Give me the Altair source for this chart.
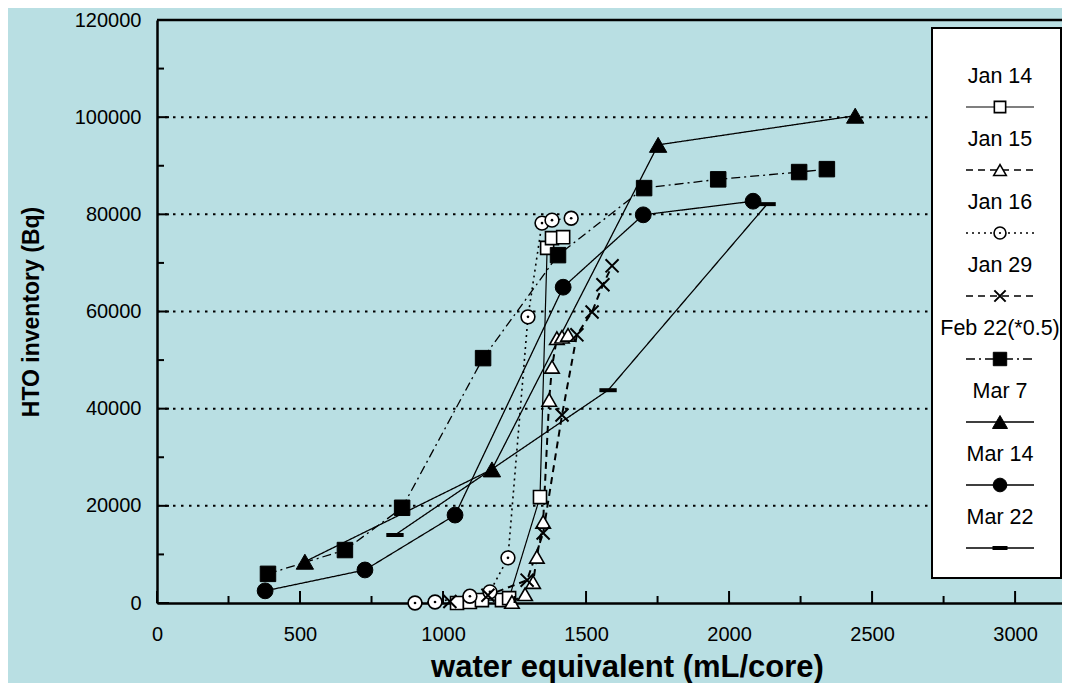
import altair as alt
import pandas as pd

# ---------------- data ----------------
series_names = ["Jan 14", "Jan 15", "Jan 16", "Jan 29", "Feb 22(*0.5)", "Mar 7", "Mar 14", "Mar 22"]

jan14_x = [1049, 1094, 1136, 1206, 1231, 1339, 1364, 1381, 1420]
jan14_y = [0, 200, 600, 600, 1000, 21800, 73100, 75100, 75300]

jan15_x = [1241, 1287, 1315, 1328, 1350, 1371, 1381, 1398, 1416, 1437]
jan15_y = [200, 1800, 4300, 9500, 16700, 41800, 48600, 54500, 54800, 55200]

jan16_x = [902, 972, 1094, 1164, 1227, 1297, 1346, 1381, 1448]
jan16_y = [0, 200, 1400, 2300, 9300, 58900, 78200, 78800, 79200]

jan29_x = [1024, 1157, 1294, 1350, 1416, 1468, 1521, 1559, 1591]
jan29_y = [300, 1600, 4700, 14400, 38700, 55200, 59900, 65500, 69400]

feb22_x = [388, 657, 857, 1140, 1402, 1703, 1962, 2245, 2342]
feb22_y = [6000, 10900, 19600, 50400, 71600, 85400, 87200, 88700, 89300]

mar7_x = [517, 1171, 1752, 2441]
mar7_y = [8500, 27500, 94300, 100300]

mar14_x = [378, 727, 1042, 1420, 1700, 2084]
mar14_y = [2500, 6800, 18100, 65000, 79900, 82700]

mar22_x = [832, 1577, 2133]
mar22_y = [14000, 43800, 82100]

all_x = [jan14_x, jan15_x, jan16_x, jan29_x, feb22_x, mar7_x, mar14_x, mar22_x]
all_y = [jan14_y, jan15_y, jan16_y, jan29_y, feb22_y, mar7_y, mar14_y, mar22_y]

x_major = [0, 500, 1000, 1500, 2000, 2500, 3000]
x_minor = [250, 750, 1250, 1750, 2250, 2750]
y_major = [0, 20000, 40000, 60000, 80000, 100000, 120000]
y_minor = [10000, 30000, 50000, 70000, 90000, 110000]
grid_y = [20000, 40000, 60000, 80000, 100000]

# ---------------- layout / style ----------------
X_MAX = 3164
Y_MAX = 120000
W = 905
H = 583
FONT = "Liberation Sans"
BG = "#B9DFE3"

XPATH = "M-1,-1L1,1M-1,1L1,-1"
DASHPATH = "M-1,0L1,0"

styles = {
    "Jan 14": dict(dash=[1, 0], sw=1.2, shape="square", fill="white", size=170, msw=1.6),
    "Jan 15": dict(dash=[7, 5], sw=2.0, shape="triangle-up", fill="white", size=210, msw=1.6),
    "Jan 16": dict(dash=[2, 4], sw=1.6, shape="circle", fill="white", size=190, msw=1.6),
    "Jan 29": dict(dash=[7, 5], sw=2.0, shape=XPATH, fill=None, size=170, msw=2.0),
    "Feb 22(*0.5)": dict(dash=[9, 4, 2, 4], sw=1.3, shape="square", fill="black", size=240, msw=1),
    "Mar 7": dict(dash=[1, 0], sw=1.3, shape="triangle-up", fill="black", size=300, msw=1),
    "Mar 14": dict(dash=[1, 0], sw=1.3, shape="circle", fill="black", size=250, msw=1),
    "Mar 22": dict(dash=[1, 0], sw=1.3, shape=DASHPATH, fill=None, size=300, msw=4.0),
}

xscale = alt.Scale(domain=[0, X_MAX], nice=False, zero=False)
yscale = alt.Scale(domain=[0, Y_MAX], nice=False, zero=False)

xaxis = alt.Axis(values=x_major, tickSize=0, labelFontSize=20, labelFont=FONT, format="d",
                 labelPadding=21, labelColor="black", domainColor="black", domainWidth=2.5,
                 grid=False, title="water equivalent (mL/core)", titleFont=FONT,
                 titleFontSize=31, titleFontWeight="bold", titleColor="black",
                 titleX=470, titleY=73, titleBaseline="alphabetic", labelFlush=False)
yaxis = alt.Axis(values=y_major, tickSize=0, labelFontSize=20, labelFont=FONT,
                 labelPadding=16, labelColor="black", domainColor="black", domainWidth=2.5,
                 grid=False, format="d", title="HTO inventory (Bq)", titleFont=FONT,
                 titleFontSize=23, titleFontWeight="bold", titleColor="black",
                 titlePadding=31, labelFlush=False)

X = alt.X("x:Q", scale=xscale, axis=xaxis)
Y = alt.Y("y:Q", scale=yscale, axis=yaxis)

layers = []

# grid lines
grid_df = pd.DataFrame({"y": grid_y})
layers.append(alt.Chart(grid_df).mark_rule(stroke="black", strokeWidth=2, strokeDash=[2.5, 5.5]).encode(
    y=Y, x=alt.value(0), x2=alt.value(W)))

# series lines
for name, xs, ys in zip(series_names, all_x, all_y):
    st = styles[name]
    df = pd.DataFrame({"x": xs, "y": ys, "i": list(range(len(xs)))})
    layers.append(alt.Chart(df).mark_line(stroke="black", strokeWidth=st["sw"], strokeDash=st["dash"]).encode(
        x=X, y=Y, order=alt.Order("i:Q")))

# series markers
for name, xs, ys in zip(series_names, all_x, all_y):
    st = styles[name]
    base = alt.Chart(pd.DataFrame({"x": xs, "y": ys}))
    if st["fill"] is None:
        pm = base.mark_point(shape=st["shape"], size=st["size"], filled=False, stroke="black",
                             strokeWidth=st["msw"], opacity=1)
    else:
        pm = base.mark_point(shape=st["shape"], size=st["size"], filled=True, fill=st["fill"],
                             stroke="black", strokeWidth=st["msw"], opacity=1, fillOpacity=1)
    layers.append(pm.encode(x=X, y=Y))
    if name == "Jan 16":
        layers.append(base.mark_point(shape="circle", size=7, filled=True, fill="black",
                                      opacity=1).encode(x=X, y=Y))

# ticks (inward)
layers.append(alt.Chart(pd.DataFrame({"x": x_major})).mark_rule(stroke="black", strokeWidth=2).encode(
    x=X, y=alt.value(H), y2=alt.value(H - 12)))
layers.append(alt.Chart(pd.DataFrame({"x": x_minor})).mark_rule(stroke="black", strokeWidth=2).encode(
    x=X, y=alt.value(H), y2=alt.value(H - 7)))
layers.append(alt.Chart(pd.DataFrame({"y": y_major})).mark_rule(stroke="black", strokeWidth=2).encode(
    y=Y, x=alt.value(0), x2=alt.value(12)))
layers.append(alt.Chart(pd.DataFrame({"y": y_minor})).mark_rule(stroke="black", strokeWidth=2).encode(
    y=Y, x=alt.value(0), x2=alt.value(7)))

# top frame line
one = pd.DataFrame({"k": [0]})
layers.append(alt.Chart(one).mark_rule(stroke="black", strokeWidth=2.5).encode(
    x=alt.value(0), x2=alt.value(W), y=alt.value(0)))

# legend box
LX0, LX1, LY0, LY1 = 775, 904, 8, 558
layers.append(alt.Chart(one).mark_rect(fill="white", stroke="black", strokeWidth=2).encode(
    x=alt.value(LX0), x2=alt.value(LX1), y=alt.value(LY0), y2=alt.value(LY1)))

LCX = 843
for k, name in enumerate(series_names):
    st = styles[name]
    ty = 57 + k * 63
    sy = ty + 30
    lb = alt.Chart(pd.DataFrame({"name": [name]}))
    layers.append(lb.mark_text(font=FONT, fontSize=21.5, color="black", align="center",
                               baseline="middle").encode(text="name:N", x=alt.value(LCX), y=alt.value(ty)))
    layers.append(lb.mark_rule(stroke="black", strokeWidth=min(st["sw"], 1.6), strokeDash=st["dash"]).encode(
        x=alt.value(LCX - 34), x2=alt.value(LCX + 34), y=alt.value(sy)))
    if st["fill"] is None:
        lm = lb.mark_point(shape=st["shape"], size=st["size"] * 0.75, filled=False, stroke="black",
                           strokeWidth=st["msw"], opacity=1)
    else:
        lm = lb.mark_point(shape=st["shape"], size=st["size"] * 0.75, filled=True, fill=st["fill"],
                           stroke="black", strokeWidth=st["msw"], opacity=1, fillOpacity=1)
    layers.append(lm.encode(x=alt.value(LCX), y=alt.value(sy)))
    if name == "Jan 16":
        layers.append(lb.mark_point(shape="circle", size=5, filled=True, fill="black",
                                    opacity=1).encode(x=alt.value(LCX), y=alt.value(sy)))

chart = alt.layer(*layers).properties(
    width=W, height=H,
    autosize=alt.AutoSizeParams(type="none"),
    padding={"left": 149, "top": 12, "right": 0, "bottom": 80},
    background=BG,
).configure_view(stroke=None)

chart.save("out.html", embed_options={"renderer": "svg", "actions": False})
